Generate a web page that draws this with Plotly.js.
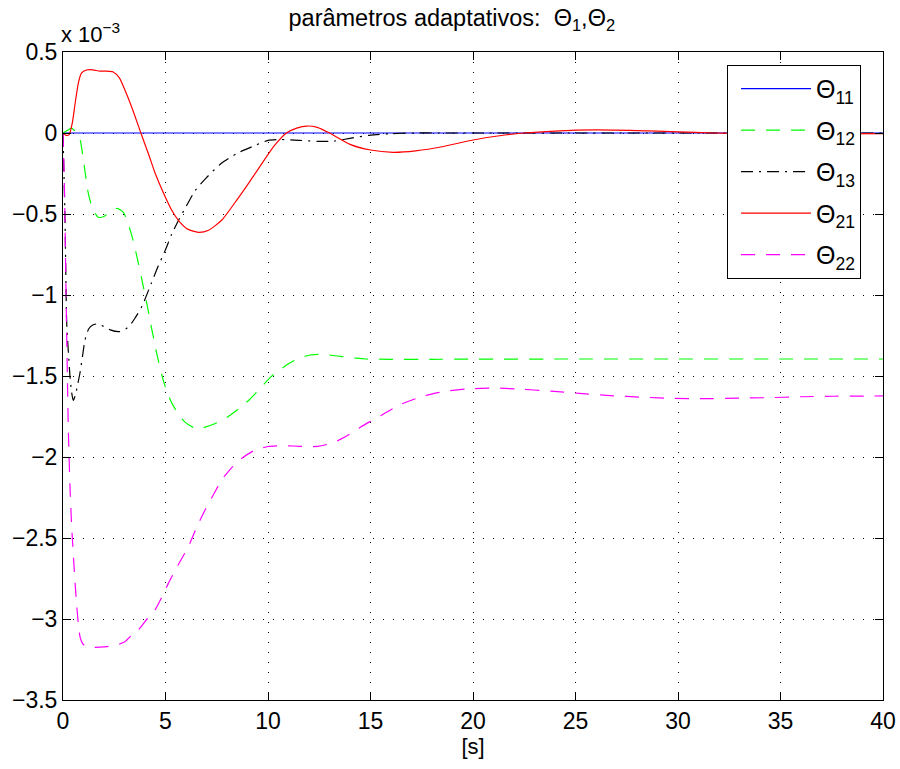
<!DOCTYPE html>
<html>
<head>
<meta charset="utf-8">
<script src="https://cdn.plot.ly/plotly-3.0.1.min.js"></script>
<style>html,body{margin:0;padding:0;background:#fff;}#chart{width:900px;height:769px;}</style>
</head>
<body>
<div id="chart"></div>
<script>
// Values are in units of 1e-3 (axis shows "x 10^-3")
var seriesNames = ['Θ<sub>11</sub>', 'Θ<sub>12</sub>', 'Θ<sub>13</sub>', 'Θ<sub>21</sub>', 'Θ<sub>22</sub>'];

var t11 = [0, 5, 10, 15, 20, 25, 30, 35, 40];
var v11 = [0, 0, 0, 0, 0, 0, 0, 0, 0];

var t12 = [0, 0.2, 0.4, 0.6, 0.83, 1.0, 1.23, 1.45, 1.72, 2.0, 2.3, 2.65, 2.95, 3.15, 3.35, 3.6, 3.84, 4.1, 4.33, 4.57, 4.81, 5.05, 5.3, 5.6, 5.95, 6.4, 6.8, 7.4, 8.0, 8.6, 9.1, 9.6, 10.1, 10.6, 11.0, 11.5, 12.0, 12.5, 13.1, 13.7, 14.3, 14.8, 16, 18, 20, 25, 30, 35, 40];
var v12 = [0, 0.015, 0.03, 0.01, -0.04, -0.17, -0.37, -0.47, -0.52, -0.515, -0.485, -0.465, -0.49, -0.55, -0.63, -0.76, -0.9, -1.06, -1.21, -1.36, -1.49, -1.59, -1.665, -1.73, -1.785, -1.82, -1.82, -1.795, -1.755, -1.7, -1.645, -1.58, -1.51, -1.46, -1.425, -1.39, -1.372, -1.366, -1.372, -1.381, -1.39, -1.395, -1.397, -1.397, -1.396, -1.395, -1.395, -1.395, -1.395];

var t13 = [0, 0.1, 0.18, 0.26, 0.34, 0.42, 0.5, 0.6, 0.72, 0.83, 0.95, 1.07, 1.25, 1.45, 1.7, 2.0, 2.3, 2.75, 3.05, 3.25, 3.5, 3.85, 4.3, 4.65, 5.0, 5.3, 5.65, 6.0, 6.45, 7.0, 7.7, 8.5, 9.4, 10.0, 10.6, 11.5, 12.5, 13.2, 14.0, 15.0, 16.0, 17.0, 18.5, 20, 25, 30, 35, 40];
var v13 = [0, -0.55, -1.17, -1.35, -1.5, -1.6, -1.65, -1.62, -1.55, -1.48, -1.38, -1.28, -1.21, -1.185, -1.178, -1.195, -1.215, -1.226, -1.21, -1.19, -1.145, -1.07, -0.93, -0.82, -0.72, -0.625, -0.535, -0.455, -0.355, -0.275, -0.19, -0.125, -0.075, -0.045, -0.04, -0.045, -0.052, -0.05, -0.033, -0.013, -0.004, 0.0, 0.0, 0.0, 0.0, 0.0, 0.0, 0.0];

var t21 = [0, 0.15, 0.3, 0.45, 0.6, 0.75, 0.9, 1.15, 1.45, 1.8, 2.1, 2.45, 2.75, 3.02, 3.35, 3.8, 4.2, 4.5, 4.9, 5.3, 5.7, 6.1, 6.6, 7.1, 7.75, 8.5, 9.0, 9.6, 10.3, 10.9, 11.4, 11.9, 12.4, 13.0, 14.0, 15.0, 16.1, 17.2, 18.5, 20.0, 21.3, 22.5, 24.0, 26.0, 28.0, 30.0, 31.7, 34.0, 37.0, 40.0];
var v21 = [0, -0.015, -0.01, 0.06, 0.19, 0.31, 0.37, 0.389, 0.39, 0.382, 0.382, 0.377, 0.34, 0.265, 0.16, 0.0, -0.14, -0.25, -0.37, -0.475, -0.55, -0.595, -0.613, -0.6, -0.537, -0.41, -0.32, -0.208, -0.08, 0.0, 0.03, 0.043, 0.035, 0.0, -0.07, -0.105, -0.119, -0.11, -0.085, -0.043, -0.017, 0.0, 0.012, 0.019, 0.015, 0.007, 0.0, -0.004, -0.005, -0.004];

var t22 = [0, 0.08, 0.16, 0.22, 0.26, 0.34, 0.42, 0.5, 0.58, 0.67, 0.75, 0.83, 0.95, 1.16, 1.6, 2.0, 2.5, 3.02, 3.35, 3.67, 4.1, 4.49, 4.8, 5.14, 5.6, 6.11, 6.5, 6.93, 7.35, 7.74, 8.2, 8.72, 9.37, 10.0, 10.6, 11.2, 11.9, 12.4, 12.9, 13.3, 13.7, 14.1, 14.5, 15.0, 15.5, 16.4, 17.6, 18.7, 19.7, 21.0, 22.1, 23.8, 25.2, 26.7, 28.3, 29.8, 31.2, 33.0, 34.3, 36.0, 37.6, 40.0];
var v22 = [0, -0.4, -1.1, -1.55, -1.83, -2.18, -2.42, -2.594, -2.76, -2.92, -3.03, -3.11, -3.15, -3.175, -3.175, -3.172, -3.165, -3.14, -3.1, -3.068, -3.0, -2.944, -2.87, -2.78, -2.67, -2.554, -2.44, -2.327, -2.23, -2.142, -2.07, -2.008, -1.957, -1.935, -1.93, -1.932, -1.936, -1.934, -1.922, -1.905, -1.88, -1.85, -1.817, -1.78, -1.745, -1.679, -1.623, -1.593, -1.58, -1.574, -1.58, -1.593, -1.607, -1.621, -1.631, -1.638, -1.64, -1.636, -1.634, -1.628, -1.625, -1.623];

var xTickVals = [0, 5, 10, 15, 20, 25, 30, 35, 40];
var yTickVals = [-3.5, -3, -2.5, -2, -1.5, -1, -0.5, 0, 0.5];
var yTickText = ['\u22123.5', '\u22123', '\u22122.5', '\u22122', '\u22121.5', '\u22121', '\u22120.5', '0', '0.5'];

var FONT = 'Liberation Sans, Arial, Helvetica, sans-serif';

function tr(x, y, name, color, dash, g) {
  return {x: x, y: y, name: name, type: 'scatter', mode: 'lines',
    line: {color: color, width: 1.2, dash: dash, shape: 'spline', smoothing: 0.6},
    legendgroup: g, hoverinfo: 'skip'};
}

var data = [
  tr(t11, v11, seriesNames[0], '#0000ff', 'solid', 'a'),
  tr(t12, v12, seriesNames[1], '#00ff00', '14px,11px', 'b'),
  tr(t13, v13, seriesNames[2], '#000000', '12px,6px,2px,6px', 'c'),
  tr(t21, v21, seriesNames[3], '#ff0000', 'solid', 'd'),
  tr(t22, v22, seriesNames[4], '#ff00ff', '14px,11px', 'e')
];

var axisCommon = {
  showline: true, linecolor: '#000', linewidth: 1, mirror: 'ticks',
  ticks: 'inside', ticklen: 8, tickcolor: '#000', tickwidth: 1,
  showgrid: true, gridcolor: '#000', gridwidth: 1, griddash: '1px,9px',
  zeroline: false, tickfont: {family: FONT, size: 23, color: '#000'}
};

var layout = {
  width: 900, height: 769,
  margin: {l: 63, r: 17, t: 52, b: 69},
  paper_bgcolor: '#fff', plot_bgcolor: '#fff',
  font: {family: FONT, color: '#000'},
  showlegend: true,
  title: {text: 'parâmetros adaptativos:  Θ<sub>1</sub>,Θ<sub>2</sub>', font: {family: FONT, size: 23.5, color: '#000'},
    x: 0.502, xanchor: 'center', y: 0.977, yanchor: 'middle'},
  xaxis: Object.assign({}, axisCommon, {range: [0, 40], tickvals: xTickVals, autorange: false,
    title: {text: '[s]', font: {family: FONT, size: 22, color: '#000'}, standoff: 1}}),
  yaxis: Object.assign({}, axisCommon, {range: [-3.5, 0.5], tickvals: yTickVals, ticktext: yTickText, autorange: false}),
  legend: {x: 0.8098, y: 0.98, xanchor: 'left', yanchor: 'top', bgcolor: '#fff',
    bordercolor: '#000', borderwidth: 1, font: {family: FONT, size: 25, color: '#000'},
    itemwidth: 70, indentation: 8, tracegroupgap: 6, traceorder: 'grouped'},
  annotations: [{xref: 'paper', yref: 'paper', x: 0, y: 1, xanchor: 'left', yanchor: 'bottom',
    text: 'x 10<sup>\u22123</sup>', showarrow: false, font: {family: FONT, size: 22, color: '#000'}, xshift: -4, yshift: 3}]
};

Plotly.newPlot('chart', data, layout, {displayModeBar: false, staticPlot: true});
</script>
</body>
</html>
